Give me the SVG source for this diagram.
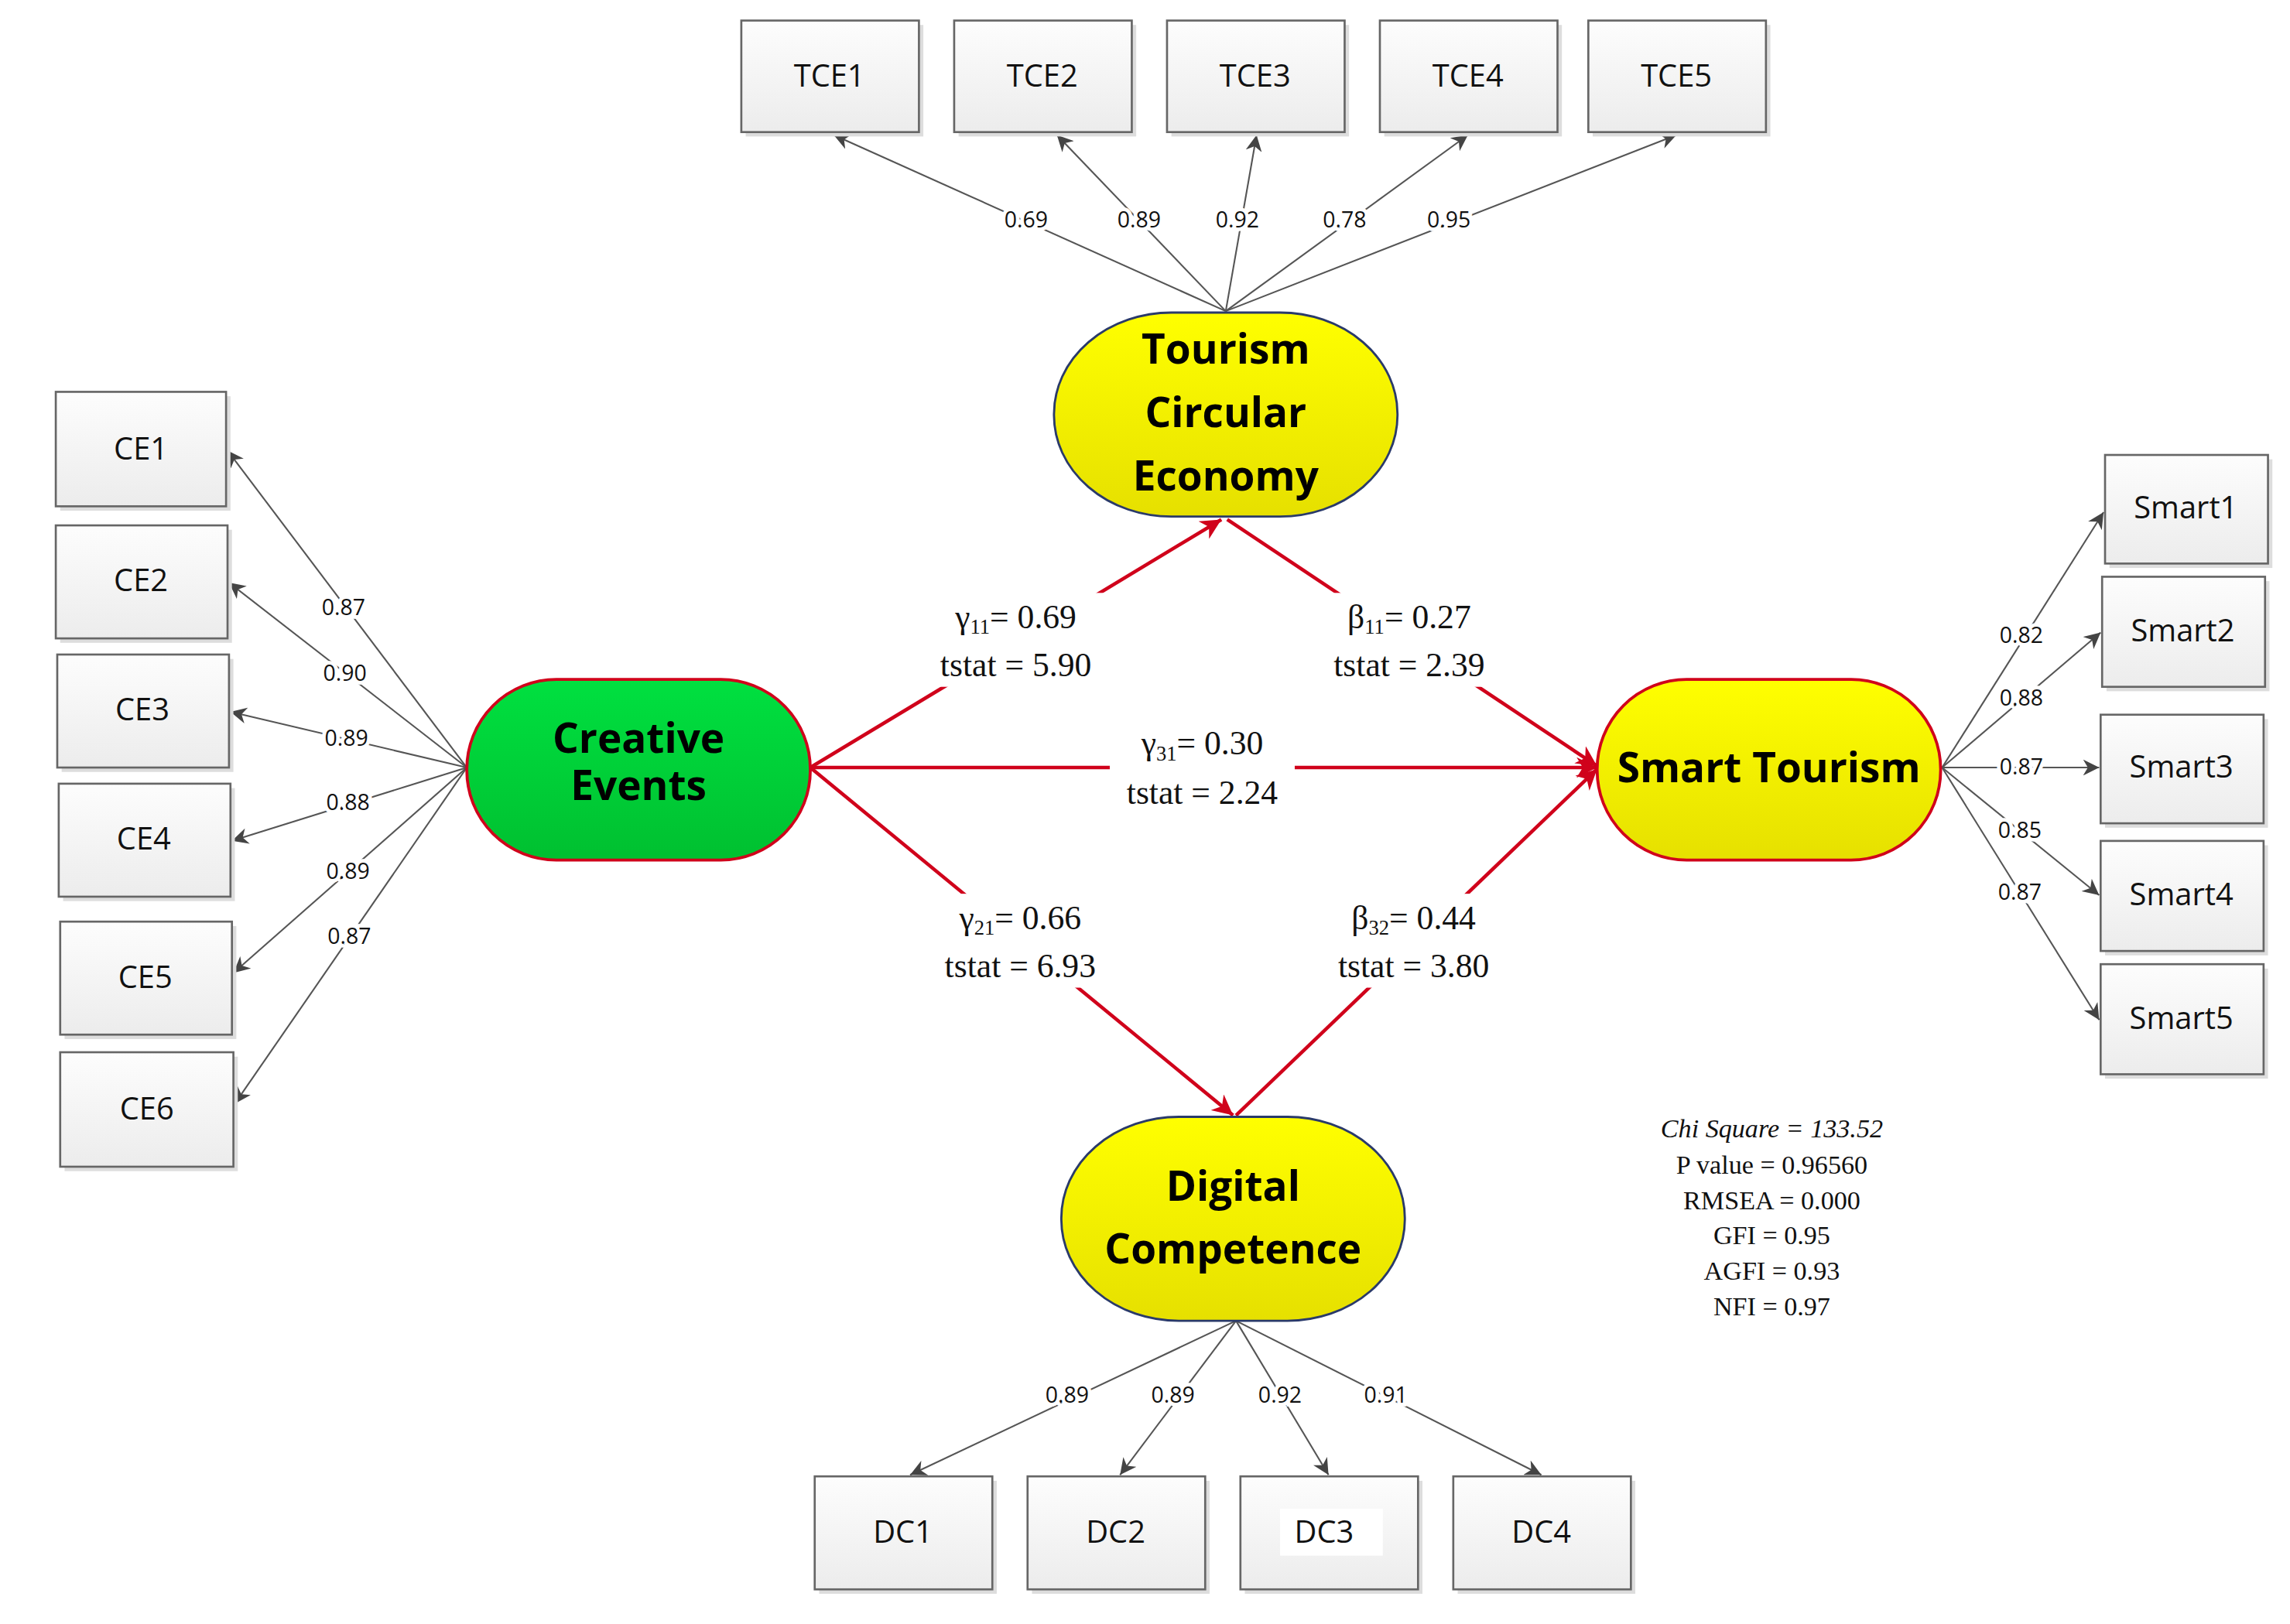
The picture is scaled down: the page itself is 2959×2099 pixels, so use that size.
<svg xmlns="http://www.w3.org/2000/svg" width="2959" height="2099" viewBox="0 0 2959 2099">
<defs>
<linearGradient id="bx" x1="0" y1="0" x2="0" y2="1"><stop offset="0" stop-color="#fdfdfd"/><stop offset="1" stop-color="#ececec"/></linearGradient>
<linearGradient id="yl" x1="0" y1="0" x2="0" y2="1"><stop offset="0" stop-color="#ffff00"/><stop offset="1" stop-color="#e6e000"/></linearGradient>
<linearGradient id="gr" x1="0" y1="0" x2="0" y2="1"><stop offset="0" stop-color="#00e040"/><stop offset="1" stop-color="#00c030"/></linearGradient>
<marker id="ga" viewBox="0 0 10 10" refX="10" refY="5" markerWidth="11" markerHeight="11" orient="auto" markerUnits="userSpaceOnUse"><path d="M0,0 L10,5 L0,10 L3,5 z" fill="#444"/></marker>
<marker id="ra" viewBox="0 0 10 10" refX="10" refY="5" markerWidth="14" markerHeight="14" orient="auto" markerUnits="userSpaceOnUse"><path d="M0,0 L10,5 L0,10 L3,5 z" fill="#d0021b"/></marker>
</defs>
<style>
.box{fill:url(#bx);stroke:#666;stroke-width:1.4}
.sh{fill:#ddd}
.bt{font-family:"Open Sans","DejaVu Sans",sans-serif;font-size:21px;fill:#111;text-anchor:middle}
.lt{font-family:"Open Sans","DejaVu Sans",sans-serif;font-size:15px;fill:#111;text-anchor:middle;paint-order:stroke;stroke:#fff;stroke-width:5px}
.st{font-family:"Liberation Serif","DejaVu Serif",serif;font-size:23px;fill:#111;text-anchor:middle}
.sub{font-size:14px}
.bg{fill:#fff}
.nt{font-family:"Open Sans","Noto Sans",sans-serif;font-weight:bold;font-size:28px;fill:#000;text-anchor:middle}
.ld{stroke:#555;stroke-width:1.1;fill:none;marker-end:url(#ga)}
.rd{stroke:#d0021b;stroke-width:2.4;fill:none;marker-end:url(#ra)}
.fit{font-family:"Liberation Serif","DejaVu Serif",serif;font-size:18px;fill:#111;text-anchor:middle}
</style>
<rect width="2959" height="2099" fill="#fff"/>
<g transform="scale(1.8968)">
<g id="connectors">
<line class="ld" x1="835" y1="212" x2="568" y2="92"/>
<line class="ld" x1="835" y1="212" x2="720" y2="92"/>
<line class="ld" x1="835" y1="212" x2="856" y2="92"/>
<line class="ld" x1="835" y1="212" x2="1000" y2="92"/>
<line class="ld" x1="835" y1="212" x2="1142" y2="92"/>
<line class="ld" x1="318" y1="523" x2="155" y2="307"/>
<line class="ld" x1="318" y1="523" x2="156" y2="397"/>
<line class="ld" x1="318" y1="523" x2="157" y2="485"/>
<line class="ld" x1="318" y1="523" x2="158" y2="573"/>
<line class="ld" x1="318" y1="523" x2="159" y2="663"/>
<line class="ld" x1="318" y1="523" x2="160" y2="752"/>
<line class="ld" x1="1323" y1="523" x2="1433" y2="349"/>
<line class="ld" x1="1323" y1="523" x2="1431" y2="431"/>
<line class="ld" x1="1323" y1="523" x2="1430" y2="523"/>
<line class="ld" x1="1323" y1="523" x2="1430" y2="610"/>
<line class="ld" x1="1323" y1="523" x2="1430" y2="695"/>
<line class="ld" x1="842" y1="900" x2="620" y2="1005"/>
<line class="ld" x1="842" y1="900" x2="763" y2="1005"/>
<line class="ld" x1="842" y1="900" x2="905" y2="1005"/>
<line class="ld" x1="842" y1="900" x2="1050" y2="1005"/>
<line class="rd" x1="552" y1="523" x2="832" y2="354"/>
<line class="rd" x1="836" y1="354" x2="1088" y2="522"/>
<line class="rd" x1="552" y1="523" x2="1088" y2="523"/>
<line class="rd" x1="552" y1="523" x2="840" y2="760"/>
<line class="rd" x1="842" y1="760" x2="1088" y2="524"/>
<text class="lt" x="699" y="155">0.69</text>
<text class="lt" x="776" y="155">0.89</text>
<text class="lt" x="843" y="155">0.92</text>
<text class="lt" x="916" y="155">0.78</text>
<text class="lt" x="987" y="155">0.95</text>
<text class="lt" x="234" y="419">0.87</text>
<text class="lt" x="235" y="464">0.90</text>
<text class="lt" x="236" y="508">0.89</text>
<text class="lt" x="237" y="552">0.88</text>
<text class="lt" x="237" y="599">0.89</text>
<text class="lt" x="238" y="643">0.87</text>
<text class="lt" x="1377" y="438">0.82</text>
<text class="lt" x="1377" y="481">0.88</text>
<text class="lt" x="1377" y="528">0.87</text>
<text class="lt" x="1376" y="571">0.85</text>
<text class="lt" x="1376" y="613">0.87</text>
<text class="lt" x="727" y="956">0.89</text>
<text class="lt" x="799" y="956">0.89</text>
<text class="lt" x="872" y="956">0.92</text>
<text class="lt" x="944" y="956">0.91</text>
<rect class="bg" x="630" y="404" width="126" height="64"/>
<rect class="bg" x="898" y="404" width="126" height="64"/>
<rect class="bg" x="756" y="490" width="126" height="64"/>
<rect class="bg" x="633" y="609" width="126" height="64"/>
<rect class="bg" x="900" y="609" width="126" height="64"/>
<text class="st" x="692" y="428">γ<tspan class="sub" dy="4">11</tspan><tspan dy="-4">= 0.69</tspan></text>
<text class="st" x="692" y="461">tstat = 5.90</text>
<text class="st" x="960" y="428">β<tspan class="sub" dy="4">11</tspan><tspan dy="-4">= 0.27</tspan></text>
<text class="st" x="960" y="461">tstat = 2.39</text>
<text class="st" x="819" y="514">γ<tspan class="sub" dy="4">31</tspan><tspan dy="-4">= 0.30</tspan></text>
<text class="st" x="819" y="548">tstat = 2.24</text>
<text class="st" x="695" y="633">γ<tspan class="sub" dy="4">21</tspan><tspan dy="-4">= 0.66</tspan></text>
<text class="st" x="695" y="666">tstat = 6.93</text>
<text class="st" x="963" y="633">β<tspan class="sub" dy="4">32</tspan><tspan dy="-4">= 0.44</tspan></text>
<text class="st" x="963" y="666">tstat = 3.80</text>
</g>
<g id="TCE1"><rect class="sh" x="508" y="17" width="121" height="76"/><rect class="box" x="505" y="14" width="121" height="76"/><text class="bt" x="565" y="59">TCE1</text></g>
<g id="TCE2"><rect class="sh" x="653" y="17" width="121" height="76"/><rect class="box" x="650" y="14" width="121" height="76"/><text class="bt" x="710" y="59">TCE2</text></g>
<g id="TCE3"><rect class="sh" x="798" y="17" width="121" height="76"/><rect class="box" x="795" y="14" width="121" height="76"/><text class="bt" x="855" y="59">TCE3</text></g>
<g id="TCE4"><rect class="sh" x="943" y="17" width="121" height="76"/><rect class="box" x="940" y="14" width="121" height="76"/><text class="bt" x="1000" y="59">TCE4</text></g>
<g id="TCE5"><rect class="sh" x="1085" y="17" width="121" height="76"/><rect class="box" x="1082" y="14" width="121" height="76"/><text class="bt" x="1142" y="59">TCE5</text></g>
<g id="CE1"><rect class="sh" x="41" y="270" width="116" height="78"/><rect class="box" x="38" y="267" width="116" height="78"/><text class="bt" x="96" y="313">CE1</text></g>
<g id="CE2"><rect class="sh" x="41" y="361" width="117" height="77"/><rect class="box" x="38" y="358" width="117" height="77"/><text class="bt" x="96" y="403">CE2</text></g>
<g id="CE3"><rect class="sh" x="42" y="449" width="117" height="77"/><rect class="box" x="39" y="446" width="117" height="77"/><text class="bt" x="97" y="491">CE3</text></g>
<g id="CE4"><rect class="sh" x="43" y="537" width="117" height="77"/><rect class="box" x="40" y="534" width="117" height="77"/><text class="bt" x="98" y="579">CE4</text></g>
<g id="CE5"><rect class="sh" x="44" y="631" width="117" height="77"/><rect class="box" x="41" y="628" width="117" height="77"/><text class="bt" x="99" y="673">CE5</text></g>
<g id="CE6"><rect class="sh" x="44" y="720" width="118" height="78"/><rect class="box" x="41" y="717" width="118" height="78"/><text class="bt" x="100" y="763">CE6</text></g>
<g id="Smart1"><rect class="sh" x="1437" y="313" width="111" height="74"/><rect class="box" x="1434" y="310" width="111" height="74"/><text class="bt" x="1489" y="353">Smart1</text></g>
<g id="Smart2"><rect class="sh" x="1435" y="396" width="111" height="75"/><rect class="box" x="1432" y="393" width="111" height="75"/><text class="bt" x="1487" y="437">Smart2</text></g>
<g id="Smart3"><rect class="sh" x="1434" y="490" width="111" height="74"/><rect class="box" x="1431" y="487" width="111" height="74"/><text class="bt" x="1486" y="530">Smart3</text></g>
<g id="Smart4"><rect class="sh" x="1434" y="576" width="111" height="75"/><rect class="box" x="1431" y="573" width="111" height="75"/><text class="bt" x="1486" y="617">Smart4</text></g>
<g id="Smart5"><rect class="sh" x="1434" y="660" width="111" height="75"/><rect class="box" x="1431" y="657" width="111" height="75"/><text class="bt" x="1486" y="701">Smart5</text></g>
<g id="DC1"><rect class="sh" x="558" y="1009" width="121" height="77"/><rect class="box" x="555" y="1006" width="121" height="77"/><text class="bt" x="615" y="1051">DC1</text></g>
<g id="DC2"><rect class="sh" x="703" y="1009" width="121" height="77"/><rect class="box" x="700" y="1006" width="121" height="77"/><text class="bt" x="760" y="1051">DC2</text></g>
<g id="DC3"><rect class="sh" x="848" y="1009" width="121" height="77"/><rect class="box" x="845" y="1006" width="121" height="77"/><rect x="872" y="1028" width="70" height="32" fill="#fff"/><text class="bt" x="902" y="1051">DC3</text></g>
<g id="DC4"><rect class="sh" x="993" y="1009" width="121" height="77"/><rect class="box" x="990" y="1006" width="121" height="77"/><text class="bt" x="1050" y="1051">DC4</text></g>
<g id="TCE"><rect x="718" y="213" width="234" height="139" rx="80" ry="69" fill="url(#yl)" stroke="#2a3a6a" stroke-width="1.5"/>
<text class="nt" x="835" y="248">Tourism</text><text class="nt" x="835" y="291">Circular</text><text class="nt" x="835" y="334">Economy</text></g>
<g id="CE"><rect x="318" y="463" width="234" height="123" rx="61" ry="61" fill="url(#gr)" stroke="#d0021b" stroke-width="2"/>
<text class="nt" x="435" y="513" font-size="26">Creative</text><text class="nt" x="435" y="545" font-size="26">Events</text></g>
<g id="ST"><rect x="1088" y="463" width="234" height="123" rx="61" ry="61" fill="url(#yl)" stroke="#d0021b" stroke-width="2"/>
<text class="nt" x="1205" y="533">Smart Tourism</text></g>
<g id="DC"><rect x="723" y="761" width="234" height="139" rx="80" ry="69" fill="url(#yl)" stroke="#2a3a6a" stroke-width="1.5"/>
<text class="nt" x="840" y="818">Digital</text><text class="nt" x="840" y="861">Competence</text></g>
<g id="fit">
<text class="fit" x="1207" y="775" font-style="italic" font-size="21">Chi Square  = 133.52</text>
<text class="fit" x="1207" y="800">P value = 0.96560</text>
<text class="fit" x="1207" y="824">RMSEA = 0.000</text>
<text class="fit" x="1207" y="848">GFI = 0.95</text>
<text class="fit" x="1207" y="872">AGFI = 0.93</text>
<text class="fit" x="1207" y="896">NFI = 0.97</text>
</g>
</g>
</svg>
